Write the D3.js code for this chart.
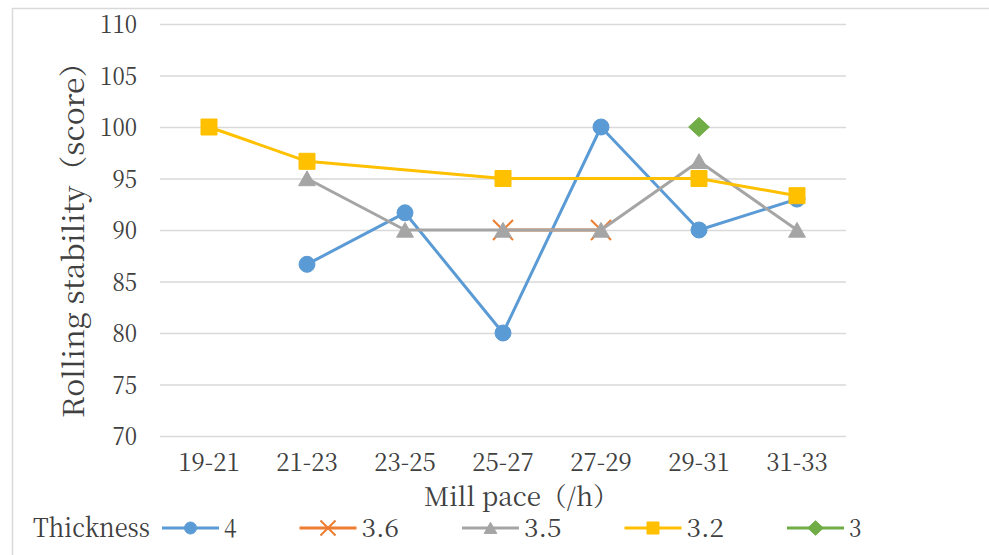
<!DOCTYPE html>
<html>
<head>
<meta charset="utf-8">
<script src="https://cdn.jsdelivr.net/npm/d3@7"></script>
<style>
  html, body { margin: 0; padding: 0; background: #ffffff; }
  svg { display: block; }
  svg text { font-family: "Noto Serif CJK SC", "Liberation Serif", serif; fill: #404040; }
</style>
</head>
<body>
<svg id="chart" width="989" height="555"></svg>
<script>
// Mill pace bands on the x axis
const categories = ["19-21", "21-23", "23-25", "25-27", "27-29", "29-31", "31-33"];

// Rolling stability scores per strip thickness (null = no data in that band)
const thickness4  = [null, 86.67, 91.67, 80, 100, 90, 93];
const thickness36 = [null, null, null, 90, 90, null, null];
const thickness35 = [null, 95, 90, 90, 90, 96.67, 90];
const thickness32 = [100, 96.67, null, 95, null, 95, 93.33];
const thickness3  = [null, null, null, null, null, 100, null];

const seriesNames = ["4", "3.6", "3.5", "3.2", "3"];
const yTicks = [70, 75, 80, 85, 90, 95, 100, 105, 110];

const yTitle = "Rolling stability（score）";
const xTitle = "Mill pace（/h）";
const legendTitle = "Thickness";

const series = [
  { name: seriesNames[0], values: thickness4,  color: "#5B9BD5", marker: "circle" },
  { name: seriesNames[1], values: thickness36, color: "#ED7D31", marker: "cross" },
  { name: seriesNames[2], values: thickness35, color: "#A5A5A5", marker: "triangle" },
  { name: seriesNames[3], values: thickness32, color: "#FFC000", marker: "square" },
  { name: seriesNames[4], values: thickness3,  color: "#70AD47", marker: "diamond" }
];

const svg = d3.select("#chart");

// Full-width CJK glyphs take 1em, everything else half an em (narrow monospaced look)
function fitWidth(sel, fontSize) {
  sel.each(function () {
    const s = this.textContent;
    let ems = 0;
    for (const ch of s) ems += ch.charCodeAt(0) > 0x2e80 ? 1 : 0.5;
    d3.select(this).attr("textLength", ems * fontSize).attr("lengthAdjust", "spacingAndGlyphs");
  });
}

// Outer chart border
svg.append("rect")
  .attr("x", 12.5).attr("y", 8.5)
  .attr("width", 1000).attr("height", 600)
  .attr("fill", "none").attr("stroke", "#D9D9D9").attr("stroke-width", 1.5);

const plot = { left: 160, right: 846, top: 24, bottom: 436 };

const x = d3.scaleBand().domain(categories).range([plot.left, plot.right]);
const y = d3.scaleLinear().domain([70, 110]).range([plot.bottom, plot.top]);
const cx = c => x(c) + x.bandwidth() / 2;

// Horizontal gridlines with value labels
const yAxis = svg.append("g")
  .attr("transform", `translate(${plot.left},0)`)
  .call(d3.axisLeft(y).tickValues(yTicks).tickSize(-(plot.right - plot.left)).tickPadding(23).tickFormat(d3.format("d")));
yAxis.attr("font-family", null);
yAxis.select(".domain").remove();
yAxis.selectAll(".tick line").attr("stroke", "#D9D9D9").attr("stroke-width", 1.5);
yAxis.selectAll(".tick text")
  .attr("font-size", 24.6)
  .attr("dy", "0.36em")
  .call(fitWidth, 24.6);

// Category labels
const xAxis = svg.append("g")
  .attr("transform", `translate(0,${plot.bottom})`)
  .call(d3.axisBottom(x).tickSize(0).tickPadding(19));
xAxis.attr("font-family", null);
xAxis.select(".domain").remove();
xAxis.selectAll(".tick text")
  .attr("font-size", 24.6)
  .attr("dy", "0.66em")
  .call(fitWidth, 24.6);

// Axis titles
svg.append("text")
  .attr("x", 424).attr("y", 506)
  .attr("font-size", 26)
  .text(xTitle)
  .call(fitWidth, 26);

svg.append("text")
  .attr("transform", "translate(84,418) rotate(-90)")
  .attr("font-size", 28.5)
  .text(yTitle)
  .call(fitWidth, 28.5);

// Marker shapes
function markerPath(type, s) {
  switch (type) {
    case "circle":   return d3.symbol(d3.symbolCircle, Math.PI * s * s)();
    case "square":   return d3.symbol(d3.symbolSquare, (2 * s) * (2 * s))();
    case "triangle": return `M0,${-s * 0.95}L${s * 1.05},${s * 0.9}L${-s * 1.05},${s * 0.9}Z`;
    case "diamond":  return `M0,${-s * 1.2}L${s * 1.3},0L0,${s * 1.2}L${-s * 1.3},0Z`;
    case "cross":    return `M${-s * 1.25},${-s * 1.25}L${s * 1.25},${s * 1.25}M${s * 1.25},${-s * 1.25}L${-s * 1.25},${s * 1.25}`;
  }
}
function styleMarker(sel, d) {
  if (d.marker === "cross") {
    sel.attr("fill", "none").attr("stroke", d.color).attr("stroke-width", 2);
  } else {
    sel.attr("fill", d.color).attr("stroke", d.color).attr("stroke-width", 1);
  }
}

const line = d3.line().x(p => cx(p.cat)).y(p => y(p.v));

series.forEach(s => {
  const pts = categories.map((c, i) => ({ cat: c, v: s.values[i] })).filter(p => p.v != null);
  const g = svg.append("g");
  if (pts.length > 1) {
    g.append("path")
      .attr("d", line(pts))
      .attr("fill", "none")
      .attr("stroke", s.color)
      .attr("stroke-width", 3)
      .attr("stroke-linejoin", "round");
  }
  g.selectAll("path.marker")
    .data(pts)
    .join("path")
    .attr("class", "marker")
    .attr("transform", p => `translate(${cx(p.cat)},${y(p.v)})`)
    .attr("d", markerPath(s.marker, 8))
    .call(sel => styleMarker(sel, s));
});

// Legend
const legendY = 528;
svg.append("text")
  .attr("x", 33).attr("y", legendY)
  .attr("dy", "0.36em")
  .attr("font-size", 26)
  .text(legendTitle)
  .call(fitWidth, 26);

let lx = 162;
const lineLen = 57, legendFont = 25;
series.forEach(s => {
  const g = svg.append("g");
  g.append("line")
    .attr("x1", lx).attr("x2", lx + lineLen)
    .attr("y1", legendY).attr("y2", legendY)
    .attr("stroke", s.color).attr("stroke-width", 3);
  g.append("path")
    .attr("transform", `translate(${lx + lineLen / 2},${legendY})`)
    .attr("d", markerPath(s.marker, 6))
    .call(sel => styleMarker(sel, s));
  g.append("text")
    .attr("x", lx + lineLen + 5).attr("y", legendY)
    .attr("dy", "0.36em")
    .attr("font-size", legendFont)
    .text(s.name)
    .call(fitWidth, legendFont);
  const w = s.name.length * legendFont * 0.5;
  lx += lineLen + 5 + w + 63;
});
</script>
</body>
</html>
